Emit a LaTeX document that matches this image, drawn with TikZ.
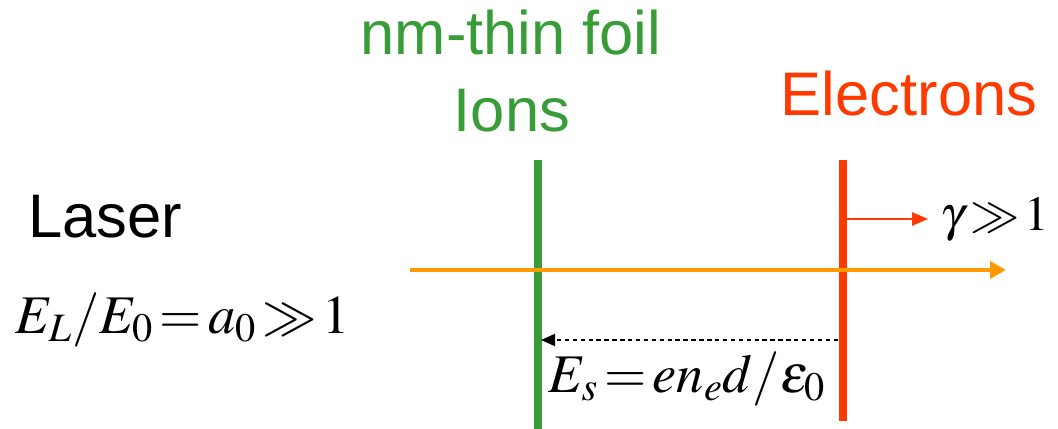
\documentclass[tikz,border=0pt]{standalone}
\usepackage{mathptmx}
\usepackage{fontspec}
\setmainfont{Liberation Sans}
\usetikzlibrary{arrows.meta}
\definecolor{foilgreen}{HTML}{389C38}
\definecolor{elecred}{HTML}{FF3A00}
\definecolor{laserorange}{HTML}{FF9900}
\thickmuskip=2mu
\medmuskip=1mu

\begin{document}
\begin{tikzpicture}[x=0.02cm, y=-0.02cm,
    every node/.style={inner sep=0pt},
    label/.style={font=\fontsize{35}{42}\selectfont, anchor=base},
    formula/.style={font=\fontsize{31}{37}\selectfont, anchor=base west},
]
\useasboundingbox (0,0) rectangle (1058,429);

% Foil and electron layer
\coordinate (foiltop) at (538,160);
\coordinate (foilbot) at (538,429);
\coordinate (electop) at (843,160);
\coordinate (elecbot) at (843,421);
\draw[foilgreen, line width=4pt] (foiltop) -- (foilbot);
\draw[elecred, line width=4pt] (electop) -- (elecbot);

% Labels
\node[label, text=foilgreen] (foil) at (511,55) {nm-thin foil};
\node[label, text=foilgreen] (ions) at (512,132) {Ions};
\node[label, text=elecred] (electrons) at (909,115) {Electrons};
\node[label, anchor=base west] (laser) at (28,237) {Laser};

% Laser pulse
\coordinate (laserstart) at (410,270);
\coordinate (laserend) at (1006,270);
\draw[laserorange, line width=2.2pt, -{Triangle[length=9pt, width=9.5pt]}]
    (laserstart) -- (laserend);

% Electron push
\node[formula, font=\fontsize{28}{34}\selectfont] (gamma) at (940,230) {$\gamma \gg 1$};
\coordinate (pushstart) at (845,219);
\coordinate (pushend) at (928,219);
\draw[elecred, line width=1.1pt, -{Triangle[length=9pt, width=7.5pt]}]
    (pushstart) -- (pushend);

% Charge separation field
\coordinate (fieldstart) at (838,340);
\coordinate (fieldend) at (541,340);
\draw[black, line width=0.6pt, dash pattern=on 2.5pt off 2pt,
    -{Triangle[length=8pt, width=7pt]}] (fieldstart) -- (fieldend);

% Formulas
\node[formula] (alaser) at (15,333) {$E_L/E_0 = a_0 \gg 1$};
\node[formula] (efield) at (548,392) {$E_s = e n_e d/\varepsilon_0$};

\end{tikzpicture}
\end{document}
